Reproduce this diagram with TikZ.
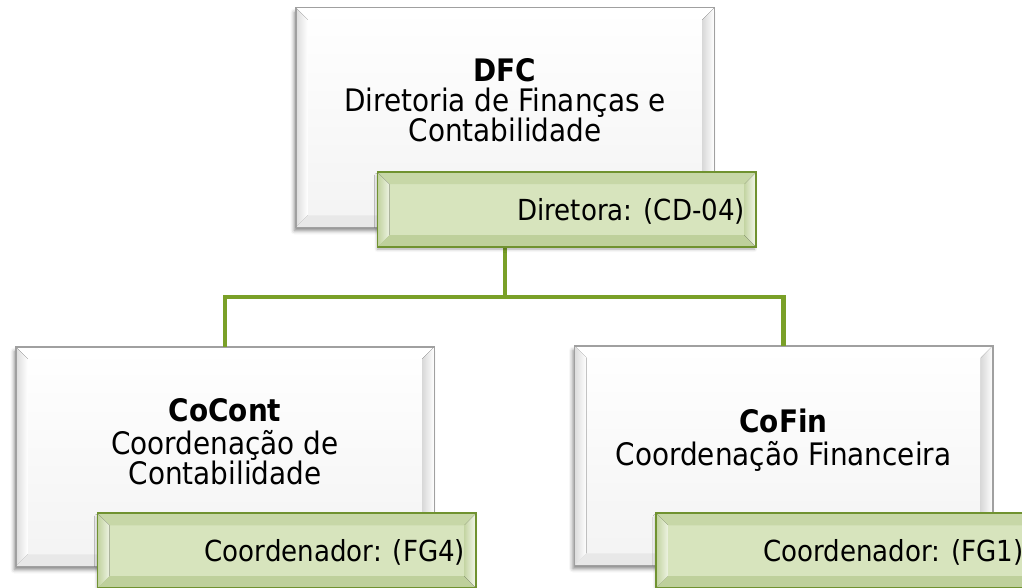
\documentclass[tikz,border=0pt]{standalone}
\usepackage{fontspec}
\setmainfont{DejaVu Sans}[FakeStretch=0.9]
\usetikzlibrary{calc}
\usetikzlibrary{shadows.blur}

\definecolor{boxline}{RGB}{160,160,160}
\definecolor{boxface}{RGB}{243,243,243}
\definecolor{roleline}{RGB}{112,146,48}
\definecolor{roleface}{RGB}{215,228,189}
\definecolor{linkgreen}{RGB}{122,160,40}

% bevelled frame: node, width, top, left, bottom, right, outline
\newcommand{\bevel}[7]{%
  \fill[#3] (#1.north west) -- (#1.north east) -- ($(#1.north east)+(-#2,#2)$) -- ($(#1.north west)+(#2,#2)$) -- cycle;
  \fill[#4] (#1.north west) -- ($(#1.north west)+(#2,#2)$) -- ($(#1.south west)+(#2,-#2)$) -- (#1.south west) -- cycle;
  \fill[#5] (#1.south west) -- ($(#1.south west)+(#2,-#2)$) -- ($(#1.south east)+(-#2,-#2)$) -- (#1.south east) -- cycle;
  \fill[#6] (#1.south east) -- ($(#1.south east)+(-#2,-#2)$) -- ($(#1.north east)+(-#2,#2)$) -- (#1.north east) -- cycle;
  \draw[#7] (#1.north west) rectangle (#1.south east);}

\begin{document}
\begin{tikzpicture}[x=1pt,y=1pt,yscale=-1,xscale=1,
  orgbox/.style={draw=boxline, line width=1.5pt, top color=white, bottom color=boxface, minimum width=417pt, minimum height=218pt, inner sep=0pt, blur shadow={shadow xshift=-2pt, shadow yshift=-4pt, shadow blur radius=4pt, shadow opacity=50}},
  rolebox/.style={draw=roleline, line width=1.8pt, fill=roleface, minimum width=377pt, minimum height=73pt, inner sep=0pt, anchor=north east, blur shadow={shadow xshift=-1pt, shadow yshift=-3pt, shadow blur radius=3pt, shadow opacity=35}},
  link/.style={draw=linkgreen, line width=4.5pt},
  titletext/.style={font=\fontsize{31}{30}\selectfont, align=center, inner sep=0pt},
  roletext/.style={font=\fontsize{29}{30}\selectfont, anchor=east, inner sep=0pt}]
\useasboundingbox (0,0) rectangle (1022,588);
\clip (0,0) rectangle (1022,588);

%Shape: units
\node[orgbox] (dfc) at (505,117.5) {};
\node[orgbox] (cocont) at (225,456.5) {};
\node[orgbox] (cofin) at (783.5,455.5) {};
\foreach \n in {dfc,cocont,cofin}
  \bevel{\n}{12}{white}{left color=black!14, right color=white}{black!9}{left color=black!15, right color=white}{boxline, line width=1.5pt};

% Text Node
\node[titletext] (dfctext) at ($(dfc.center)+(0,-17)$) {{\bfseries DFC}\\Diretoria de Finanças e\\Contabilidade};
% Text Node
\node[titletext] (coconttext) at ($(cocont.center)+(0,-15)$) {{\bfseries CoCont}\\[3pt]Coordenação de\\Contabilidade};
% Text Node
\node[titletext] (cofintext) at ($(cofin.center)+(0,-15)$) {{\bfseries CoFin}\\[3pt]Coordenação Financeira};

%Straight Lines
\coordinate (bus) at (505,297);
\draw[link] (dfc.south) -- (dfc.south |- bus) -| (cocont.north);
\draw[link] (dfc.south |- bus) -| (cofin.north);

%Shape: posts
\node[rolebox] (dfcrole) at ($(dfc.south east)+(42,-55)$) {};
\node[rolebox] (cocontrole) at ($(cocont.south east)+(42,-53)$) {};
\node[rolebox] (cofinrole) at ($(cofin.south east)+(42,-52)$) {};
\foreach \n in {dfcrole,cocontrole,cofinrole}
  \bevel{\n}{12}{roleline!16!roleface}{left color=roleline!22!roleface, right color=roleface!45!white}{roleline!24!roleface}{left color=roleline!18!roleface, right color=roleface!25!white}{roleline, line width=1.8pt};

% Text Node
\node[roletext] (dfcroletext) at ($(dfcrole.east)+(-11,2)$) {Diretora: (CD-04)};
% Text Node
\node[roletext] (cocontroletext) at ($(cocontrole.east)+(-11,2)$) {Coordenador: (FG4)};
% Text Node
\node[roletext] (cofinroletext) at ($(cofinrole.east)+(-11,2)$) {Coordenador: (FG1)};

\end{tikzpicture}
\end{document}
